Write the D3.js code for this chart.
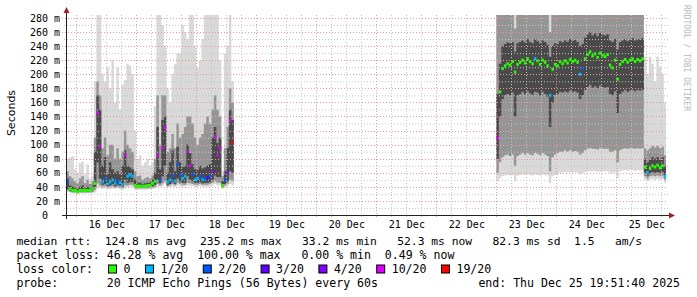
<!DOCTYPE html>
<html lang="en">
<head>
<meta charset="UTF-8">
<title>SmokePing - last 10 days</title>
<style>
  body { margin: 0; background: #fff; }
  svg { display: block; }
  text { font-family: "DejaVu Sans Mono", monospace; fill: #000; white-space: pre; }
</style>
</head>
<body>
<div id="chart"></div>
<script src="https://d3js.org/d3.v7.min.js"></script>
<script>
// one value per hour, medians and ping spread in ms
const seg1Start = "2025-12-15T20:00:00Z";
const seg1Med  = [48,37,35,35,33,35,35,35,35,35,38,45,145,97,47,52,44,47,50,45,48,46,43,85,55,57,55,42,41,41,41,41,42,42,45,48,85,50,95,124,47,50,56,48,72,58,52,55,90,70,58,50,52,55,50,52,53,55,62,111,85,95,42,50,60,134,103];
const seg1Loss = [2,0,0,0,0,0,0,0,0,0,0,0,10,10,1,2,1,1,1,1,2,1,1,10,1,1,1,0,0,0,0,0,0,0,0,0,10,2,10,10,1,1,2,1,2,2,1,1,10,10,2,1,1,2,1,2,3,2,4,10,10,10,0,2,4,10,19];
const seg1Lo   = [33,32,31,31,30,31,31,31,31,31,31,32,38,38,37,38,37,37,38,37,38,37,36,38,39,40,40,36,36,36,36,36,36,37,37,38,40,40,41,44,39,40,41,40,42,41,40,40,42,41,41,40,40,41,40,40,40,41,42,44,42,42,37,39,41,44,42];
const seg1P10  = [35,33,32,32,31,32,32,32,32,32,33,36,45,42,40,41,39,40,41,39,40,39,38,42,42,43,43,38,38,38,38,38,38,38,39,40,44,42,45,48,41,42,44,42,46,44,43,43,46,45,44,43,43,44,43,43,43,44,46,48,46,46,39,42,44,50,48];
const seg1P25  = [37,34,33,33,32,33,33,33,33,33,35,40,75,52,43,44,41,42,44,41,43,42,40,50,46,47,47,40,39,39,39,39,40,40,41,43,50,45,55,70,43,44,47,44,52,48,46,46,55,50,48,46,46,47,45,46,46,47,50,56,54,54,40,44,48,62,60];
const seg1P75  = [52,42,40,39,37,40,42,38,40,38,42,90,170,150,70,82,58,75,65,60,62,58,70,92,70,68,65,50,45,46,44,45,46,46,50,60,125,65,135,140,60,75,92,62,97,75,68,70,100,88,72,65,64,70,66,68,70,72,110,125,102,110,48,62,95,150,135];
const seg1P90  = [62,55,52,48,45,52,55,45,50,44,48,110,190,170,95,110,85,100,100,80,95,80,90,120,100,95,90,62,55,56,50,52,54,52,56,80,170,100,170,170,90,95,115,95,130,110,115,125,140,140,130,110,100,110,115,130,140,130,150,170,150,140,55,95,125,180,160];
const seg1Hi   = [80,82,84,65,60,74,76,58,72,52,56,190,300,300,200,190,210,180,220,160,210,150,185,192,215,212,200,120,80,85,70,75,80,70,75,155,300,300,270,240,180,160,200,215,230,230,270,260,250,300,300,240,210,220,250,290,290,300,300,300,300,220,62,230,240,300,190];

const seg2Start = "2025-12-23T00:00:00Z";
const seg2Med  = [109,175,208,212,215,213,218,203,214,217,220,216,222,218,215,222,219,214,220,217,212,170,207,214,212,218,215,219,216,221,218,220,217,200,208,222,228,232,226,229,224,230,227,225,228,213,209,220,193,214,218,221,217,220,222,218,221,219,222,68,60,66,70,68,71,67,70,55];
const seg2Loss = [10,0,0,0,0,0,0,0,0,0,0,0,0,0,0,1,0,0,0,0,0,1,0,0,0,0,0,0,0,0,0,0,0,1,2,0,0,0,0,0,0,0,0,0,0,0,0,0,0,0,0,0,0,0,0,0,0,0,0,0,1,0,0,0,0,0,0,1];
const seg2Lo   = [48,52,55,56,57,56,57,48,56,57,58,57,58,57,56,58,57,56,58,57,56,45,55,57,58,60,60,61,60,61,60,61,60,58,59,61,62,62,62,62,61,62,62,62,62,60,60,61,52,62,63,64,63,64,64,63,64,63,64,50,48,50,51,50,51,50,51,46];
const seg2P10  = [60,75,82,85,86,84,86,70,84,86,88,86,88,86,85,88,87,85,88,86,84,62,82,86,88,90,90,92,90,92,90,91,90,86,88,92,94,95,94,94,93,95,94,94,94,90,90,92,75,92,94,95,94,95,95,94,95,94,95,55,52,55,56,55,56,55,56,50];
const seg2P25  = [80,140,165,170,172,170,174,140,170,172,175,172,176,173,171,175,174,170,175,172,168,125,160,171,172,175,174,176,174,177,175,176,174,165,170,178,182,185,181,183,180,184,182,181,182,172,170,176,145,172,175,178,175,177,178,176,178,177,178,60,56,59,61,60,61,60,61,54];
const seg2P75  = [172,215,240,243,245,244,246,232,244,246,248,245,250,246,244,250,247,244,248,246,242,225,240,244,243,247,245,248,246,250,247,249,246,240,243,252,256,260,255,258,254,259,256,255,257,248,246,250,235,246,248,250,247,249,251,248,250,249,251,80,75,78,82,80,82,79,82,70];
const seg2P90  = [300,350,400,400,400,400,400,265,400,400,400,400,400,400,400,400,400,400,400,400,400,260,400,400,400,400,400,400,400,400,400,400,400,400,400,400,400,400,400,400,400,400,400,400,400,400,400,400,290,400,400,400,400,400,400,400,400,400,400,95,92,95,98,96,98,95,97,85];
const seg2Hi   = [400,450,450,450,450,450,450,400,450,450,450,450,450,450,450,450,450,450,450,450,450,400,450,450,450,450,450,450,450,450,450,450,450,450,450,450,450,450,450,450,450,450,450,450,450,450,450,450,400,450,450,450,450,450,450,450,450,450,450,225,200,225,215,190,225,210,200,160];

const yTicks = d3.range(0, 281, 20);
const lossSteps  = [1, 2, 3, 4, 10, 19];
const lossColors = ["#26ff00", "#00b8ff", "#0059ff", "#5e00ff", "#7e00ff", "#dd00ff", "#ff0000"];
const lossLabels = ["0", "1/20", "2/20", "3/20", "4/20", "10/20", "19/20"];

const W = 697, H = 297;
const HOUR = 3600e3;
const x = d3.scaleUtc()
    .domain([new Date("2025-12-15T19:51:40Z"), new Date("2025-12-25T19:51:40Z")])
    .range([66, 666]);
const y = d3.scaleLinear().domain([0, 284.2]).range([215, 15]);
const lossCls = d3.scaleThreshold().domain(lossSteps).range(d3.range(lossColors.length));

const svg = d3.select("#chart").append("svg").attr("width", W).attr("height", H);
svg.append("rect").attr("width", W).attr("height", H).attr("fill", "#fff");
svg.append("clipPath").attr("id", "plot")
    .append("rect").attr("x", 66).attr("y", 15).attr("width", 600).attr("height", 200);

function build(start, med, loss, lo, p10, p25, p75, p90, hi) {
    const t0 = new Date(start).getTime();
    return med.map((m, i) => ({
        t: new Date(t0 + i * HOUR), med: m, loss: loss[i],
        lo: lo[i], p10: p10[i], p25: p25[i], p75: p75[i], p90: p90[i], hi: hi[i]
    }));
}
const segments = [
    build(seg1Start, seg1Med, seg1Loss, seg1Lo, seg1P10, seg1P25, seg1P75, seg1P90, seg1Hi),
    build(seg2Start, seg2Med, seg2Loss, seg2Lo, seg2P10, seg2P25, seg2P75, seg2P90, seg2Hi)
];

// smoke
const bands = [["lo", "hi", "#d9d9d9"], ["p10", "p90", "#959595"], ["p25", "p75", "#4a4a4a"]];
const smoke = svg.append("g").attr("clip-path", "url(#plot)");
segments.forEach(pts => {
    const last = pts[pts.length - 1];
    const stepPts = pts.concat([{ ...last, t: new Date(+last.t + HOUR) }]);
    bands.forEach(([a, b, c]) => {
        smoke.append("path")
            .datum(stepPts)
            .attr("fill", c)
            .attr("d", d3.area().curve(d3.curveStepAfter)
                .x(d => x(d.t)).y0(d => y(d[a])).y1(d => y(d[b])));
    });
});

// grid (drawn over the smoke like rrdtool)
const grid = svg.append("g");
const minorY = d3.range(10, 281, 20);
grid.selectAll(".gy").data(minorY).join("line")
    .attr("x1", 64).attr("x2", 668).attr("y1", d => y(d) + 0.5).attr("y2", d => y(d) + 0.5)
    .attr("stroke", "#c4c4c4").attr("stroke-dasharray", "1,2");
grid.selectAll(".gx").data(d3.utcHour.every(6).range(x.domain()[0], x.domain()[1])
        .filter(d => d.getUTCHours() !== 0)).join("line")
    .attr("x1", d => Math.round(x(d)) + 0.5).attr("x2", d => Math.round(x(d)) + 0.5)
    .attr("y1", 15).attr("y2", 218)
    .attr("stroke", "#c4c4c4").attr("stroke-dasharray", "1,2");
grid.selectAll(".my").data(yTicks.filter(d => d > 0)).join("line")
    .attr("x1", 62).attr("x2", 668).attr("y1", d => Math.round(y(d)) + 0.5).attr("y2", d => Math.round(y(d)) + 0.5)
    .attr("stroke", "#e79a9a").attr("stroke-dasharray", "1,2");
grid.selectAll(".mx").data(d3.utcDay.range(x.domain()[0], x.domain()[1])).join("line")
    .attr("x1", d => Math.round(x(d)) + 0.5).attr("x2", d => Math.round(x(d)) + 0.5)
    .attr("y1", 15).attr("y2", 219)
    .attr("stroke", "#e79a9a").attr("stroke-dasharray", "1,2");

// median: a thin stacked band per sample, coloured by loss (no connectors)
const medG = svg.append("g");
segments.forEach(pts => {
    medG.selectAll(null).data(pts).join("rect")
        .attr("x", d => x(d.t))
        .attr("width", d => x(new Date(+d.t + HOUR)) - x(d.t))
        .attr("y", d => y(d.med) - 1.5)
        .attr("height", 3)
        .attr("fill", d => lossColors[lossCls(d.loss)]);
});

// axes
const yAxis = svg.append("g").attr("transform", "translate(66,0)")
    .call(d3.axisLeft(y).tickValues(yTicks).tickSize(0).tickPadding(6)
        .tickFormat(d => d ? d + " m" : "0  "));
yAxis.select(".domain").remove();
yAxis.selectAll("text").style("font-size", "10px").attr("font-family", null);

const xAxis = svg.append("g").attr("transform", "translate(0,215)")
    .call(d3.axisBottom(x)
        .tickValues(d3.utcDay.range(x.domain()[0], x.domain()[1]).map(d => new Date(+d + 12 * HOUR)))
        .tickSize(0).tickPadding(6).tickFormat(d3.utcFormat("%d %b")));
xAxis.select(".domain").remove();
xAxis.selectAll("text").style("font-size", "10px").attr("font-family", null);

svg.append("line").attr("x1", 62).attr("x2", 670).attr("y1", 215.5).attr("y2", 215.5).attr("stroke", "#222");
svg.append("line").attr("x1", 66.5).attr("x2", 66.5).attr("y1", 219).attr("y2", 12).attr("stroke", "#222");
svg.append("path").attr("d", "M669,212.5L675,215.5L669,218.5Z").attr("fill", "#9b2020");
svg.append("path").attr("d", "M63.5,13L66.5,7L69.5,13Z").attr("fill", "#9b2020");

svg.append("text")
    .attr("transform", "translate(11,113) rotate(-90)")
    .attr("text-anchor", "middle").attr("dominant-baseline", "central")
    .style("font-family", "'DejaVu Sans', sans-serif").style("font-size", "11px")
    .text("Seconds");

svg.append("text")
    .attr("transform", "translate(686,5) rotate(90)")
    .attr("dominant-baseline", "central")
    .style("font-size", "8px").style("fill", "#b8b8b8")
    .text("RRDTOOL / TOBI OETIKER");

// legend
const legendSize = "11.55px";
const lines = [
    "median rtt:  124.8 ms avg  235.2 ms max   33.2 ms min   52.3 ms now   82.3 ms sd  1.5   am/s",
    "packet loss: 46.28 % avg  100.00 % max   0.00 % min  0.49 % now",
    "loss color:",
    "probe:       20 ICMP Echo Pings (56 Bytes) every 60s"
];
const lineY = [241, 255, 269, 283];
lines.forEach((s, i) => {
    svg.append("text").attr("x", 16.4).attr("y", lineY[i])
        .attr("dominant-baseline", "central").style("font-size", i ? legendSize : "11.3px").text(s);
});
svg.append("text").attr("x", 680).attr("y", lineY[3]).attr("text-anchor", "end")
    .attr("dominant-baseline", "central").style("font-size", legendSize)
    .text("end: Thu Dec 25 19:51:40 2025");

let lx = 108.5;
lossLabels.forEach((lab, i) => {
    svg.append("rect").attr("x", lx).attr("y", lineY[2] - 4).attr("width", 8).attr("height", 8)
        .attr("fill", lossColors[i]).attr("stroke", "#000");
    const t = svg.append("text").attr("x", lx + 15).attr("y", lineY[2])
        .attr("dominant-baseline", "central").style("font-size", legendSize).text(lab);
    lx += 15 + t.node().getComputedTextLength() + 15;
});
</script>
</body>
</html>
